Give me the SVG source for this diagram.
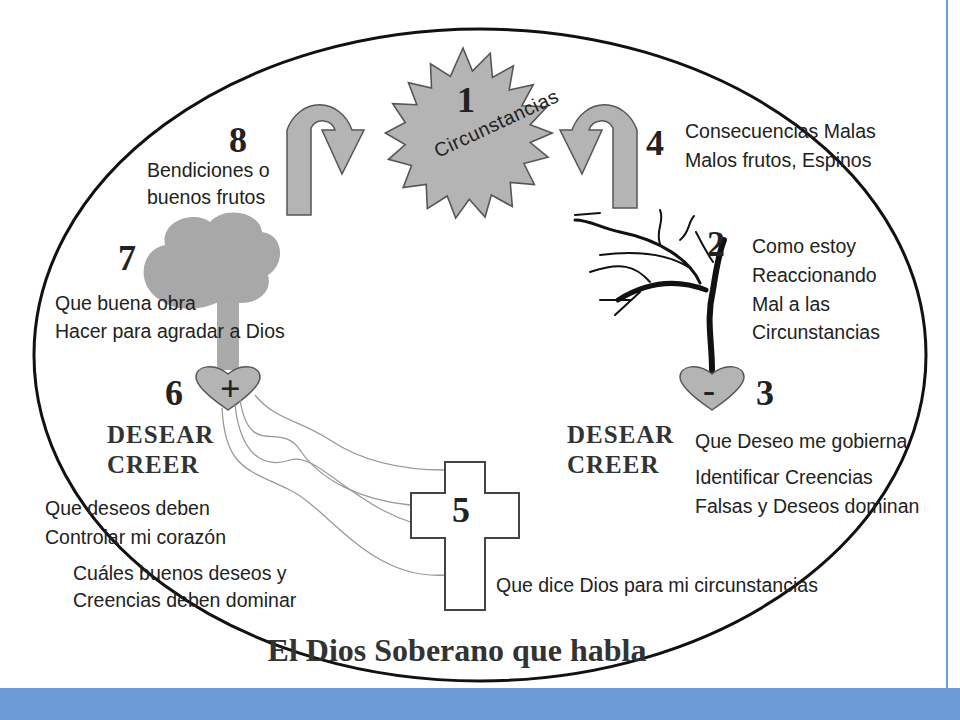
<svg xmlns="http://www.w3.org/2000/svg" width="960" height="720" viewBox="0 0 960 720">
<style>
.t{font-family:"Liberation Sans",Arial,sans-serif;font-size:19.5px;fill:#222}
.n{font-family:"Liberation Serif","Times New Roman",serif;font-size:36px;font-weight:bold;fill:#222}
.b{font-family:"Liberation Serif","Times New Roman",serif;font-size:25px;font-weight:bold;fill:#333;letter-spacing:1px}
.g{fill:#b4b4b4;stroke:#555;stroke-width:1.5}
.w{fill:none;stroke:#999;stroke-width:1.3}
</style>
<rect width="960" height="720" fill="#fff"/>
<ellipse cx="480" cy="355" rx="446" ry="326" fill="none" stroke="#111" stroke-width="3"/>
<g id="n1">
<polygon class="g" transform="translate(463,132) scale(1.05) translate(-463,-132)" points="463,52 472,74 489,57 491,80 511,69 507,92 530,87 519,107 543,108 527,125 548,133 527,142 544,156 521,162 531,182 508,180 510,203 490,192 484,213 469,196 456,214 448,193 429,205 428,182 406,185 414,164 392,158 408,144 389,133 408,123 396,105 419,106 411,85 433,90 432,67 451,79"/>
<text class="n" x="466" y="112" text-anchor="middle" font-size="40">1</text>
<text class="t" x="0" y="0" transform="translate(438,158) rotate(-25)" font-size="22" letter-spacing="0.5">Circunstancias</text>
</g>
<g id="n4">
<path class="g" d="M613,208 L613,128 A13,13 0 0 0 589,130 L602,130 L582,174 L560,130 L572,130 A35,40 0 0 1 637,130 L637,208 Z"/>
<text class="n" x="646" y="155">4</text>
<text class="t" x="685" y="138">Consecuencias Malas</text>
<text class="t" x="685" y="167">Malos frutos, Espinos</text>
</g>
<g id="n8">
<path class="g" d="M311,215 L311,128 A13,13 0 0 1 335,130 L322,130 L342,174 L364,130 L352,130 A35,40 0 0 0 287,130 L287,215 Z"/>
<text class="n" x="229" y="152">8</text>
<text class="t" x="147" y="177">Bendiciones o</text>
<text class="t" x="147" y="204">buenos frutos</text>
</g>
<g id="n7">
<rect x="217" y="290" width="22" height="80" fill="#aaa"/>
<path d="M160,300 C135,285 140,250 165,245 C160,220 195,210 210,222 C225,205 260,212 262,232 C285,235 285,265 268,275 C275,300 240,310 225,298 C205,312 175,312 160,300 Z" fill="#a8a8a8"/>
<text class="n" x="118" y="270">7</text>
<text class="t" x="55" y="310">Que buena obra</text>
<text class="t" x="55" y="338">Hacer para agradar a Dios</text>
</g>
<g id="n2">
<g fill="none" stroke="#111" stroke-linecap="round">
<path d="M712,370 C712,340 706,320 713,290 C716,270 720,250 724,240" stroke-width="6"/>
<path d="M706,290 C680,280 650,280 618,300" stroke-width="5"/>
<path d="M700,283 C690,260 660,240 620,232 C600,228 590,220 575,220" stroke-width="3"/>
<path d="M690,268 C670,255 640,250 600,255" stroke-width="2"/>
<path d="M650,282 C635,265 620,262 590,272" stroke-width="2"/>
<path d="M660,244 C655,230 665,222 660,210" stroke-width="2"/>
<path d="M680,240 C690,232 688,222 694,216" stroke-width="2"/>
<path d="M713,262 C705,250 700,240 696,232" stroke-width="2"/>
<path d="M640,292 L615,315 M630,300 L600,300" stroke-width="2"/>
<path d="M600,213 L575,215" stroke-width="2"/>
</g>
<text class="n" x="707" y="256">2</text>
<text class="t" x="752" y="253">Como estoy</text>
<text class="t" x="752" y="282">Reaccionando</text>
<text class="t" x="752" y="311">Mal a las</text>
<text class="t" x="752" y="339">Circunstancias</text>
</g>
<g id="n3">
<path class="g" d="M712,410 C690,395 680,385 680,377 C680,366 698,362 712,374 C726,362 744,366 744,377 C744,385 734,395 712,410 Z"/>
<text class="n" x="703" y="402" font-size="28">-</text>
<text class="n" x="756" y="405">3</text>
<text class="b" x="567" y="443">DESEAR</text>
<text class="b" x="567" y="473">CREER</text>
<text class="t" x="695" y="448">Que Deseo me gobierna</text>
<text class="t" x="695" y="484">Identificar Creencias</text>
<text class="t" x="695" y="513">Falsas y Deseos dominan</text>
</g>
<g id="n6">
<path class="g" d="M228,410 C206,395 196,385 196,377 C196,366 214,362 228,374 C242,362 260,366 260,377 C260,385 250,395 228,410 Z"/>
<text class="n" x="220" y="401" font-size="24">+</text>
<text class="n" x="165" y="405">6</text>
<text class="b" x="107" y="443">DESEAR</text>
<text class="b" x="107" y="473">CREER</text>
<text class="t" x="45" y="515">Que deseos deben</text>
<text class="t" x="45" y="544">Controlar mi corazón</text>
<text class="t" x="73" y="580">Cuáles buenos deseos y</text>
<text class="t" x="73" y="607">Creencias deben dominar</text>
</g>
<g id="connectors">
<path class="w" d="M240,400 C250,460 280,420 300,450 C320,480 360,500 410,505"/>
<path class="w" d="M235,405 C240,450 260,470 290,460 C320,450 360,520 445,530"/>
<path class="w" d="M222,408 C225,470 250,470 290,490 C330,510 370,580 445,575"/>
<path class="w" d="M255,395 C275,420 300,420 330,440 C360,460 400,470 445,470"/>
</g>
<g id="n5">
<path d="M445,462 L485,462 L485,493 L519,493 L519,538 L485,538 L485,610 L445,610 L445,538 L411,538 L411,493 L445,493 Z" fill="#fff" stroke="#444" stroke-width="2"/>
<text class="n" x="452" y="522">5</text>
<text class="t" x="496" y="592">Que dice Dios para mi circunstancias</text>
</g>
<text x="457" y="661" text-anchor="middle" font-family="Liberation Serif,serif" font-weight="bold" font-size="32" fill="#333">El Dios Soberano que habla</text>
<rect x="0" y="688" width="960" height="32" fill="#6c9cd6"/>
<rect x="946" y="0" width="2" height="688" fill="#6c9cd6"/>
</svg>
